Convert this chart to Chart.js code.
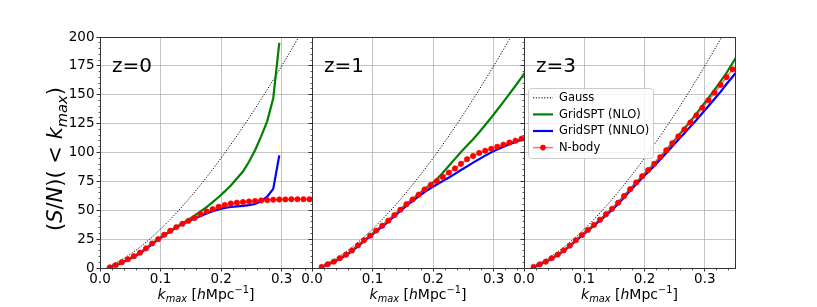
<!DOCTYPE html>
<html><head><meta charset="utf-8">
<script src="https://cdn.jsdelivr.net/npm/chart.js@4.4.1/dist/chart.umd.min.js"></script>
<style>
html,body{margin:0;padding:0;background:#fff;}
#wrap{position:relative;width:817px;height:307px;overflow:hidden;background:#fff;}
canvas{position:absolute;left:0;top:0;width:817px;height:307px;}
</style></head><body>
<div id="wrap">
<canvas id="c0" width="817" height="307"></canvas>
<canvas id="c1" width="817" height="307"></canvas>
<canvas id="c2" width="817" height="307"></canvas>
</div>
<script>
// ---------------- data ----------------
const kNbody = [0.016,0.026,0.036,0.046,0.056,0.066,0.076,0.086,0.096,0.106,0.116,0.126,0.136,0.146,0.156,0.166,0.176,0.186,0.196,0.206,0.216,0.226,0.236,0.246,0.256,0.266,0.276,0.286,0.296,0.306,0.316,0.326,0.336,0.346];
const kModel = [0.016,0.026,0.036,0.046,0.056,0.066,0.076,0.086,0.096,0.106,0.116,0.126,0.136,0.146,0.156,0.166,0.176,0.186,0.196,0.206,0.216,0.226,0.236,0.246,0.256,0.266,0.276,0.286,0.296,0.306,0.316,0.326,0.336,0.346,0.356];

const gauss = [2.2,4.5,7.3,10.5,14.1,18.0,22.3,26.8,31.7,36.7,42.1,47.6,53.4,59.4,65.6,72.0,78.6,85.4,92.4,99.5,106.9,114.4,122.1,129.9,137.9,146.1,154.4,162.8,171.5,180.2,189.1,198.2,207.4,216.7,226.2];

// z = 0
const nbodyZ0 = [0.5,2.5,5.0,7.6,10.2,13.3,17.0,21.2,25.0,28.8,32.2,35.4,38.3,40.8,43.3,46.5,49.0,51.0,53.0,54.5,55.8,56.6,57.1,57.6,58.0,58.5,58.8,59.1,59.3,59.4,59.5,59.5,59.5,59.5];
const nloZ0 = [0.5,2.5,5.0,7.6,10.2,13.3,17.0,21.2,25.0,28.8,32.2,35.5,38.6,41.8,45.3,49.0,52.8,57.0,61.5,66.3,71.5,77.5,83.5,92.0,102.0,114.0,127.0,147.0,195.0];
const nnloZ0 = [0.4,2.2,4.6,7.1,9.7,12.8,16.5,20.7,24.5,28.3,31.7,35.0,38.0,40.5,42.8,45.0,47.2,49.2,50.8,52.0,52.8,53.3,53.8,54.5,55.4,57.8,61.8,68.5,97.5];

// z = 1
const nbodyZ1 = [1.0,3.2,5.5,8.5,11.5,15.2,19.6,24.0,28.0,32.4,36.6,41.0,45.8,50.5,55.3,59.3,63.5,68.0,71.8,75.2,78.8,82.6,86.2,90.2,94.2,97.0,99.6,101.5,103.2,105.0,106.8,108.6,110.2,112.0];
const nloZ1 = [1.0,3.2,5.5,8.5,11.5,15.2,19.6,24.0,28.0,32.4,36.6,41.0,45.8,50.5,55.3,59.5,64.0,68.3,72.3,76.8,82.5,88.5,94.5,100.5,106.0,111.5,117.5,123.8,130.3,137.0,143.8,150.8,157.8,165.0,172.5];
const nnloZ1 = [0.8,2.9,5.1,8.0,11.0,14.6,19.0,23.4,27.4,31.7,35.9,40.2,44.9,49.5,54.0,58.0,62.0,65.8,69.2,72.3,75.3,78.3,81.5,84.8,88.0,91.2,94.3,97.3,100.1,102.7,105.0,107.2,109.2,111.0,112.8];

// z = 3
const nbodyZ3 = [1.0,3.1,5.5,8.5,11.6,15.3,19.4,24.0,28.5,33.0,37.3,41.8,46.5,51.2,56.5,62.3,68.2,74.0,79.5,84.8,90.2,96.0,102.0,108.0,114.0,120.0,126.0,132.2,138.8,145.3,151.8,158.5,165.2,172.0];
const nloZ3 = [1.0,3.1,5.5,8.5,11.6,15.3,19.4,24.0,28.5,33.0,37.3,41.8,46.5,51.2,56.5,62.3,68.2,74.0,79.5,84.8,90.2,96.0,102.0,108.3,114.5,120.8,127.2,133.7,140.5,147.3,154.3,161.5,169.0,177.5,185.5];
const nnloZ3 = [0.9,2.9,5.3,8.2,11.3,14.9,19.0,23.5,28.0,32.4,36.6,41.0,45.6,50.2,55.4,61.1,66.9,72.5,78.0,83.1,88.3,93.9,99.6,105.3,111.0,116.7,122.4,128.1,134.2,140.3,146.3,152.5,159.3,165.6,172.0];

const panelLabels = ['z=0','z=1','z=3'];
const seriesNames = ['Gauss','GridSPT (NLO)','GridSPT (NNLO)','N-body'];
const xTickValues = [0, 0.1, 0.2, 0.3];
const xTickLabels = ['0.0','0.1','0.2','0.3'];
const yTickValues = [0,25,50,75,100,125,150,175,200];
const yTickLabels = ['0','25','50','75','100','125','150','175','200'];

// ---------------- styles / layout ----------------
const FONT = '"DejaVu Sans", "Liberation Sans", sans-serif';
const styles = [
  {color:'#000000', width:1, dash:[1.2,1.6]},
  {color:'#008000', width:2.2},
  {color:'#0000ff', width:2.2},
  {color:'rgba(255,60,60,0.75)', width:1.5, point:'#ff0000'}
];
const panels = [
  {left:100, right:312, nbody:nbodyZ0, nlo:nloZ0, nnlo:nnloZ0},
  {left:312, right:524, nbody:nbodyZ1, nlo:nloZ1, nnlo:nnloZ1},
  {left:524, right:735, nbody:nbodyZ3, nlo:nloZ3, nnlo:nnloZ3}
];
const TOP = 37, BOTTOM = 268, W = 817, H = 307;

function pts(xs, ys){ const out=[]; for(let i=0;i<ys.length;i++) out.push({x:xs[i], y:ys[i]}); return out; }

function drawRich(ctx, segs, size, cx, cy, rot){
  ctx.save();
  ctx.translate(cx, cy);
  if (rot) ctx.rotate(rot);
  let total = 0;
  const parts = segs.map(s => {
    const fs = (s.sub || s.sup) ? size*0.7 : size;
    const font = (s.it ? 'italic ' : '') + fs + 'px ' + FONT;
    ctx.font = font;
    const w = ctx.measureText(s.t).width;
    total += w;
    return Object.assign({}, s, {font, w});
  });
  let x = -total/2;
  ctx.textBaseline = 'alphabetic';
  ctx.textAlign = 'left';
  ctx.fillStyle = '#000';
  for (const p of parts){
    ctx.font = p.font;
    const dy = p.sub ? size*0.22 : (p.sup ? -size*0.42 : 0);
    ctx.fillText(p.t, x, dy);
    x += p.w;
  }
  ctx.restore();
}

function roundRect(ctx, x, y, w, h, r){
  ctx.beginPath();
  ctx.moveTo(x+r, y); ctx.lineTo(x+w-r, y); ctx.arcTo(x+w, y, x+w, y+r, r);
  ctx.lineTo(x+w, y+h-r); ctx.arcTo(x+w, y+h, x+w-r, y+h, r);
  ctx.lineTo(x+r, y+h); ctx.arcTo(x, y+h, x, y+h-r, r);
  ctx.lineTo(x, y+r); ctx.arcTo(x, y, x+r, y, r);
  ctx.closePath();
}

function makeDecor(idx){
  return {
    id: 'decor'+idx,
    afterDraw(chart){
      const ctx = chart.ctx, a = chart.chartArea;
      const xs = chart.scales.x, ys = chart.scales.y;
      const al = v => Math.round(v - 0.5) + 0.5;
      ctx.save();
      // minor ticks
      ctx.strokeStyle = '#333'; ctx.lineWidth = 0.8;
      ctx.beginPath();
      for (let v = 5; v < 200; v += 5){
        if (v % 25 === 0) continue;
        const y = al(ys.getPixelForValue(v));
        ctx.moveTo(al(a.left), y); ctx.lineTo(al(a.left) - 2, y);
      }
      for (let i = 1; i < 18; i++){
        if (i % 5 === 0) continue;
        const x = al(xs.getPixelForValue(i*0.02));
        ctx.moveTo(x, al(a.bottom)); ctx.lineTo(x, al(a.bottom) + 2);
      }
      ctx.stroke();
      // spines
      ctx.strokeStyle = '#333'; ctx.lineWidth = 1;
      ctx.strokeRect(al(a.left), al(a.top), al(a.right) - al(a.left), al(a.bottom) - al(a.top));
      // panel label
      ctx.fillStyle = '#000';
      ctx.font = '20px ' + FONT;
      ctx.textBaseline = 'alphabetic'; ctx.textAlign = 'left';
      ctx.fillText(panelLabels[idx], a.left + 12, a.top + 35);
      ctx.restore();
      // x title
      drawRich(ctx, [
        {t:'k', it:true}, {t:'max', it:true, sub:true}, {t:' ['}, {t:'h', it:true}, {t:'Mpc'}, {t:'\u22121', sup:true}, {t:']'}
      ], 14, (a.left + a.right)/2, 299, 0);
      // y title
      if (idx === 0){
        drawRich(ctx, [
          {t:'('}, {t:'S', it:true}, {t:'/'}, {t:'N', it:true}, {t:')( < '}, {t:'k', it:true}, {t:'max', it:true, sub:true}, {t:')'}
        ], 21, 62, 159, -Math.PI/2);
      }
      // legend
      if (idx === 2){
        const x0 = a.left + 4, y0 = a.top + 51, w = 125, h = 70;
        ctx.save();
        roundRect(ctx, x0 + 0.5, y0 + 0.5, w, h, 3);
        ctx.fillStyle = 'rgba(255,255,255,0.8)'; ctx.fill();
        ctx.strokeStyle = '#cccccc'; ctx.lineWidth = 1; ctx.stroke();
        ctx.font = '11.5px ' + FONT; ctx.textBaseline = 'middle'; ctx.textAlign = 'left';
        for (let i = 0; i < seriesNames.length; i++){
          const st = styles[i];
          const yy = y0 + 9.8 + i*16.6;
          ctx.beginPath();
          ctx.setLineDash(st.dash || []);
          ctx.strokeStyle = st.color; ctx.lineWidth = st.width;
          ctx.moveTo(x0 + 5, yy); ctx.lineTo(x0 + 25, yy); ctx.stroke();
          ctx.setLineDash([]);
          if (st.point){
            ctx.beginPath(); ctx.fillStyle = st.point;
            ctx.arc(x0 + 15, yy, 2.8, 0, Math.PI*2); ctx.fill();
          }
          ctx.fillStyle = '#000';
          ctx.fillText(seriesNames[i], x0 + 31, yy + 0.5);
        }
        ctx.restore();
      }
    }
  };
}

panels.forEach((p, idx) => {
  const datasets = [
    {label: seriesNames[3], data: pts(kNbody, p.nbody), borderColor: styles[3].color, borderWidth: styles[3].width,
     pointRadius: 2.7, pointBorderWidth: 0.6, pointBackgroundColor: styles[3].point, pointBorderColor: styles[3].point, order: 0},
    {label: seriesNames[2], data: pts(kModel, p.nnlo), borderColor: styles[2].color, borderWidth: styles[2].width, pointRadius: 0, order: 1},
    {label: seriesNames[1], data: pts(kModel, p.nlo), borderColor: styles[1].color, borderWidth: styles[1].width, pointRadius: 0, order: 2},
    {label: seriesNames[0], data: pts(kModel, gauss), borderColor: styles[0].color, borderWidth: styles[0].width, borderDash: styles[0].dash, pointRadius: 0, order: 3}
  ];
  datasets.forEach(d => { d.fill = false; d.tension = 0; d.clip = 0; d.backgroundColor = d.borderColor; });
  new Chart(document.getElementById('c'+idx), {
    type: 'line',
    data: {datasets},
    plugins: [makeDecor(idx)],
    options: {
      responsive: false, animation: false, events: [],
      layout: {autoPadding: false, padding: {left: idx === 0 ? 0 : p.left, right: W - p.right, top: TOP, bottom: 0}},
      plugins: {legend: {display: false}, tooltip: {enabled: false}},
      scales: {
        x: {
          type: 'linear', min: 0, max: 0.35,
          afterBuildTicks: s => { s.ticks = xTickValues.map(v => ({value: v})); },
          afterFit: s => { s.height = H - BOTTOM; },
          ticks: {autoSkip: false, maxRotation: 0, padding: 0, color: '#000', font: {family: FONT, size: 13.5},
                  callback: (v, i) => xTickLabels[i]},
          grid: {color: 'rgba(176,176,176,0.75)', lineWidth: 1, tickLength: 3.5, tickColor: '#333', tickWidth: 1},
          border: {display: false}
        },
        y: {
          type: 'linear', min: 0, max: 200,
          afterBuildTicks: s => { s.ticks = yTickValues.map(v => ({value: v})); },
          afterFit: s => { s.width = idx === 0 ? p.left : 0; },
          ticks: {display: idx === 0, padding: 2, color: '#000', font: {family: FONT, size: 13.5},
                  callback: (v, i) => yTickLabels[i]},
          grid: {color: 'rgba(176,176,176,0.75)', lineWidth: 1, tickLength: 3.5, tickColor: '#333', tickWidth: 1},
          border: {display: false}
        }
      }
    }
  });
});
</script>
</body></html>
